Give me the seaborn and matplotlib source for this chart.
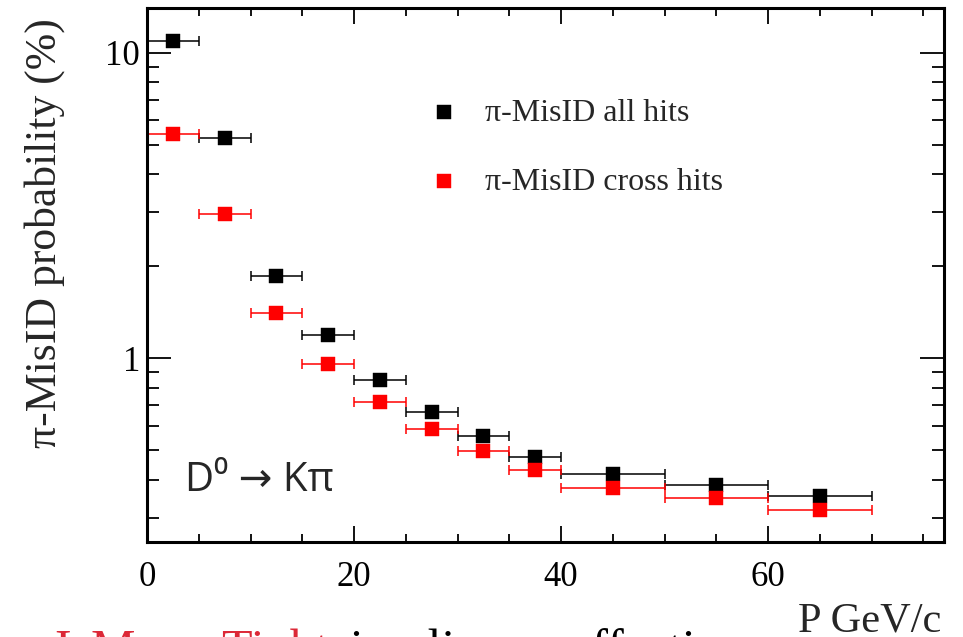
import numpy as np
import pandas as pd
import matplotlib
matplotlib.use("Agg")
import matplotlib.pyplot as plt
from matplotlib.ticker import FixedLocator, NullFormatter, FuncFormatter, MultipleLocator
import seaborn as sns

# Momentum bins (GeV/c): centres and half-widths
p_center = [2.5, 7.5, 12.5, 17.5, 22.5, 27.5, 32.5, 37.5, 45, 55, 65]
p_halfwidth = [2.5, 2.5, 2.5, 2.5, 2.5, 2.5, 2.5, 2.5, 5, 5, 5]

# pi mis-identification probability (%)
misid_all = [10.9, 5.26, 1.86, 1.19, 0.847, 0.664, 0.555, 0.475, 0.416, 0.385, 0.354]
misid_cross = [5.42, 2.96, 1.40, 0.954, 0.718, 0.585, 0.495, 0.430, 0.376, 0.349, 0.319]

series_labels = ["π-MisID all hits", "π-MisID cross hits"]
series_colors = ["#000000", "#ff0000"]

sns.set_theme(style="ticks")
plt.rcParams["font.family"] = ["Liberation Serif", "DejaVu Serif"]

df = pd.concat([
    pd.DataFrame({"p": p_center, "dp": p_halfwidth, "prob": misid_all, "series": series_labels[0]}),
    pd.DataFrame({"p": p_center, "dp": p_halfwidth, "prob": misid_cross, "series": series_labels[1]}),
], ignore_index=True)

fig = plt.figure(figsize=(9.63, 6.37), dpi=100)
ax = fig.add_axes([147 / 963, 1 - 542 / 637, (944 - 147) / 963, (542 - 8) / 637])

for lab, col in zip(series_labels, series_colors):
    sub = df[df["series"] == lab]
    ax.errorbar(sub["p"], sub["prob"], xerr=sub["dp"], fmt="none",
                ecolor=col, elinewidth=1.1, capsize=3.6, capthick=1.1, zorder=2)
    sns.scatterplot(data=sub, x="p", y="prob", marker="s", s=95, color=col,
                    edgecolor=col, linewidth=0.3, ax=ax, label=lab, zorder=3)

ax.set_yscale("log")
ax.set_xlim(0, 77)
ax.set_ylim(0.25, 14.0)

# ticks on all four sides, pointing inward
ax.xaxis.set_major_locator(MultipleLocator(20))
ax.xaxis.set_minor_locator(MultipleLocator(5))
ax.yaxis.set_major_locator(FixedLocator([1, 10]))
minor_y = [m * 10.0 ** e for e in (-1, 0, 1) for m in range(2, 10)]
ax.yaxis.set_minor_locator(FixedLocator(minor_y))
ax.yaxis.set_major_formatter(FuncFormatter(lambda v, _: f"{v:g}"))
ax.yaxis.set_minor_formatter(NullFormatter())

ax.tick_params(axis="both", which="both", direction="in", top=True, right=True,
               colors="black", labelsize=25, width=1.3)
ax.tick_params(axis="x", which="major", length=11.5, pad=14)
ax.tick_params(axis="x", which="minor", length=5.5)
ax.tick_params(axis="y", which="major", length=17, pad=5)
ax.tick_params(axis="y", which="minor", length=8.5)

for sp in ax.spines.values():
    sp.set_visible(True)
    sp.set_color("black")
    sp.set_linewidth(2.2)

ax.set_xlabel("")
ax.set_ylabel("")

leg = ax.legend(loc="upper left", bbox_to_anchor=(0.316, 0.855), frameon=False,
                fontsize=23, handletextpad=0.3, labelspacing=1.25,
                markerscale=1.0, borderaxespad=0)
for h in leg.legend_handles:
    h.set_sizes([110])

fig.text(45 / 963, 1 - 18 / 637, "π-MisID probability (%)", rotation=90,
         ha="center", va="top", fontsize=31.5)
fig.text(941 / 963, 1 - 631 / 637, "P GeV/c", ha="right", va="baseline", fontsize=30.5)

ax.text(0.048, 0.095, "D⁰ → Kπ", transform=ax.transAxes, ha="left", va="baseline",
        fontsize=29, family=["Open Sans", "DejaVu Sans"])

# caption running off the bottom edge
fig.text(55 / 963, -0.043, "IsMuon Tight", color="#dc2837", fontsize=36,
         ha="left", va="baseline")
fig.text(350 / 963, -0.043, "implies an effective", color="black", fontsize=36,
         ha="left", va="baseline")

fig.savefig("out.png", dpi=100)
